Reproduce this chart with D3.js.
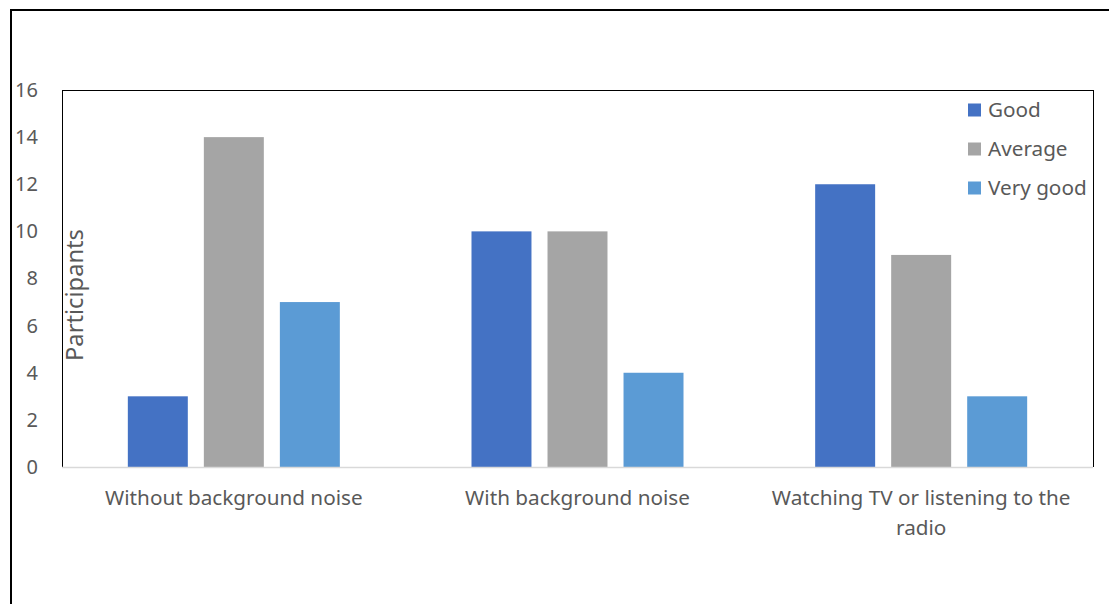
<!DOCTYPE html>
<html>
<head>
<meta charset="utf-8">
<script src="https://cdn.jsdelivr.net/npm/d3@7"></script>
<style>
  html, body { margin: 0; padding: 0; background: #fff; }
  svg { display: block; }
  text { font-family: "Noto Sans", "Open Sans", sans-serif; fill: #595959; }
</style>
</head>
<body>
<svg id="chart" width="1109" height="604"></svg>
<script>
// Responses per listening condition
const categories = [
  ["Without background noise"],
  ["With background noise"],
  ["Watching TV or listening to the", "radio"]
];
const seriesNames = ["Good", "Average", "Very good"];
const goodValues = [3, 10, 12];
const averageValues = [14, 10, 9];
const veryGoodValues = [7, 4, 3];
const yTicks = [0, 2, 4, 6, 8, 10, 12, 14, 16];
const seriesColors = ["#4472C4", "#A5A5A5", "#5B9BD5"];

const seriesValues = [goodValues, averageValues, veryGoodValues];
const rows = categories.map((c, i) => ({
  key: c.join(" "),
  lines: c,
  values: seriesNames.map((s, j) => ({ series: s, value: seriesValues[j][i] }))
}));

const svg = d3.select("#chart");
const plot = { left: 62, right: 1093, top: 90, bottom: 467 };
const labelSize = 20.7;

// outer frame
svg.append("rect")
  .attr("x", 11).attr("y", 10)
  .attr("width", 1120).attr("height", 620)
  .attr("fill", "none").attr("stroke", "#000").attr("stroke-width", 2);

const x0 = d3.scaleBand()
  .domain(rows.map(r => r.key))
  .range([plot.left, plot.right])
  .padding(0);

const x1 = d3.scaleBand()
  .domain(seriesNames)
  .range([0, x0.bandwidth()])
  .paddingInner(0.211)
  .paddingOuter(0.866);

const y = d3.scaleLinear().domain([0, 16]).range([plot.bottom, plot.top]);

// plot area border (top, left, right)
svg.append("path")
  .attr("d", `M${plot.left},${plot.bottom}V${plot.top}H${plot.right}V${plot.bottom}`)
  .attr("fill", "none").attr("stroke", "#000").attr("stroke-width", 1)
  .attr("shape-rendering", "crispEdges");

// bars
const groups = svg.append("g").selectAll("g")
  .data(rows).join("g")
  .attr("transform", d => `translate(${x0(d.key)},0)`);

groups.selectAll("rect")
  .data(d => d.values).join("rect")
  .attr("x", d => x1(d.series))
  .attr("y", d => y(d.value))
  .attr("width", x1.bandwidth())
  .attr("height", d => y(0) - y(d.value))
  .attr("fill", (d, i) => seriesColors[i]);

// category axis line
svg.append("line")
  .attr("x1", plot.left).attr("x2", plot.right)
  .attr("y1", plot.bottom + 0.5).attr("y2", plot.bottom + 0.5)
  .attr("stroke", "#d9d9d9").attr("stroke-width", 1.5);

// y axis tick labels
const yAxis = d3.axisLeft(y).tickValues(yTicks).tickSize(0).tickPadding(0);
const yg = svg.append("g")
  .attr("transform", `translate(38,0)`)
  .call(yAxis);
yg.select(".domain").remove();
yg.selectAll("text")
  .attr("font-size", 20)
  .attr("fill", "#595959")
  .style("font-family", "'Noto Sans', sans-serif");

// y axis title, sized to span 132px
const title = svg.append("text")
  .attr("transform", `translate(83,295) rotate(-90)`)
  .attr("text-anchor", "middle")
  .attr("font-size", 20)
  .text("Participants");
const titleLen = title.node().getComputedTextLength();
title.attr("font-size", 20 * 132 / titleLen);

// category labels
const labels = svg.append("g").selectAll("text")
  .data(rows).join("text")
  .attr("text-anchor", "middle")
  .attr("font-size", labelSize)
  .attr("x", d => x0(d.key) + x0.bandwidth() / 2)
  .attr("y", 505);
labels.selectAll("tspan")
  .data(d => d.lines).join("tspan")
  .attr("x", function() { return d3.select(this.parentNode).attr("x"); })
  .attr("dy", (d, i) => i === 0 ? 0 : 30)
  .text(d => d);

// legend
const legend = svg.append("g").selectAll("g")
  .data(seriesNames).join("g")
  .attr("transform", (d, i) => `translate(968,${110 + i * 39})`);
legend.append("rect")
  .attr("x", 0).attr("y", -6.5)
  .attr("width", 13).attr("height", 13)
  .attr("fill", (d, i) => seriesColors[i]);
legend.append("text")
  .attr("x", 20).attr("y", 0)
  .attr("dy", "0.35em")
  .attr("font-size", labelSize)
  .text(d => d);
</script>
</body>
</html>
